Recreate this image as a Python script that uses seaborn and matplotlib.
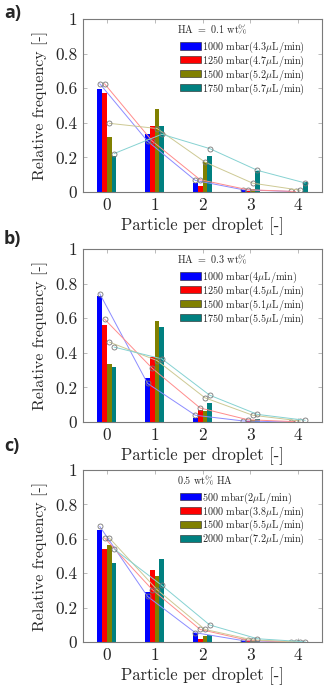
import numpy as np
import pandas as pd
import matplotlib
matplotlib.use("Agg")
import matplotlib.pyplot as plt
from matplotlib.patches import Patch
import seaborn as sns

# particles per droplet (x categories)
counts = [0, 1, 2, 3, 4]

# panel a) HA = 0.1 wt%  -- measured (bars) and fitted (lines)
a_title = r"HA $=$ 0.1 wt$\%$"
a_labels = [r"1000 mbar(4.3$\mu$L/min)", r"1250 mbar(4.7$\mu$L/min)",
            r"1500 mbar(5.2$\mu$L/min)", r"1750 mbar(5.7$\mu$L/min)"]
a_bars = [[0.596, 0.338, 0.051, 0.012, 0.000],
          [0.571, 0.383, 0.032, 0.005, 0.000],
          [0.319, 0.478, 0.173, 0.015, 0.002],
          [0.206, 0.383, 0.206, 0.122, 0.055]]
a_fits = [[0.626, 0.294, 0.067, 0.013, 0.003],
          [0.626, 0.294, 0.071, 0.013, 0.003],
          [0.397, 0.367, 0.173, 0.051, 0.010],
          [0.222, 0.334, 0.251, 0.125, 0.052]]

# panel b) HA = 0.3 wt%
b_title = r"HA $=$ 0.3 wt$\%$"
b_labels = [r"1000 mbar(4$\mu$L/min)", r"1250 mbar(4.5$\mu$L/min)",
            r"1500 mbar(5.1$\mu$L/min)", r"1750 mbar(5.5$\mu$L/min)"]
b_bars = [[0.727, 0.256, 0.025, 0.000, 0.000],
          [0.558, 0.378, 0.068, 0.003, 0.000],
          [0.335, 0.581, 0.062, 0.013, 0.000],
          [0.320, 0.549, 0.107, 0.019, 0.002]]
b_fits = [[0.742, 0.223, 0.039, 0.006, 0.000],
          [0.595, 0.310, 0.081, 0.013, 0.002],
          [0.462, 0.355, 0.140, 0.039, 0.006],
          [0.433, 0.365, 0.155, 0.044, 0.010]]

# panel c) 0.5 wt% HA
c_title = r"0.5 wt$\%$ HA"
c_labels = [r"500 mbar(2$\mu$L/min)", r"1000 mbar(3.8$\mu$L/min)",
            r"1500 mbar(5.5$\mu$L/min)", r"2000 mbar(7.2$\mu$L/min)"]
c_bars = [[0.653, 0.291, 0.050, 0.005, 0.000],
          [0.542, 0.416, 0.015, 0.008, 0.000],
          [0.566, 0.381, 0.037, 0.008, 0.000],
          [0.459, 0.483, 0.041, 0.005, 0.000]]
c_fits = [[0.672, 0.265, 0.054, 0.008, 0.000],
          [0.605, 0.304, 0.073, 0.010, 0.000],
          [0.605, 0.304, 0.073, 0.012, 0.000],
          [0.541, 0.329, 0.099, 0.019, 0.001]]

bar_colors = ["#0000ff", "#ff0000", "#808000", "#008080"]
line_colors = ["#8c8cff", "#ff8c8c", "#cdc994", "#86d2d2"]

sns.set_style("ticks")
plt.rcParams["font.family"] = ["cmr10", "DejaVu Serif"]
plt.rcParams["mathtext.fontset"] = "cm"
plt.rcParams["axes.unicode_minus"] = False
plt.rcParams["axes.formatter.use_mathtext"] = True


def draw_panel(ax, bars, fits, labels, title):
    df = pd.DataFrame({
        "count": np.tile(counts, len(labels)),
        "freq": np.concatenate(bars),
        "series": np.repeat(labels, len(counts)),
    })
    group_w = 0.4
    sns.barplot(data=df, x="count", y="freq", hue="series", hue_order=labels,
                palette=bar_colors, width=group_w, gap=0, dodge=True,
                saturation=1, linewidth=0, legend=False, errorbar=None, ax=ax)
    step = group_w / len(labels)
    for k in range(len(labels)):
        off = (k - (len(labels) - 1) / 2) * step
        sns.lineplot(x=np.array(counts) + off, y=fits[k], color=line_colors[k],
                     lw=0.7, marker="o", ms=3.6, mfc="none", mec="#777777",
                     mew=0.6, ax=ax, zorder=4)

    ax.set_xlim(-0.5, 4.5)
    ax.set_ylim(0, 1)
    ax.set_xticks(counts)
    ax.set_xticklabels([str(c) for c in counts])
    ax.set_yticks([0, 0.2, 0.4, 0.6, 0.8, 1])
    ax.set_yticklabels(["0", "0.2", "0.4", "0.6", "0.8", "1"])
    ax.tick_params(direction="in", length=3, width=0.6, color="#b0b0b0",
                   top=True, right=True, labelsize=12.5, pad=4)
    for s in ax.spines.values():
        s.set_color("#7a7a7a")
        s.set_linewidth(0.8)
    ax.set_xlabel("Particle per droplet [-]", fontsize=12, labelpad=3)
    ax.set_ylabel("Relative frequency [-]", fontsize=11.5, labelpad=5)

    # legend heading drawn as plain text, entries as a frameless legend
    ax.text(0.393, 0.942, title, transform=ax.transAxes, fontsize=7.3,
            ha="left", va="center")
    handles = [Patch(facecolor=c, edgecolor="#222222", lw=0.4) for c in bar_colors]
    ax.legend(handles, labels, loc="upper left",
              bbox_to_anchor=(0.397, 0.894), frameon=False,
              fontsize=7.3, handlelength=2.1, handleheight=0.7,
              handletextpad=0.12, labelspacing=-0.13, borderpad=0.2,
              borderaxespad=0)


fig = plt.figure(figsize=(3.28, 6.93), dpi=100)
W, H = 328, 693
left, right = 83, 322
panels = [(19, 192, a_bars, a_fits, a_labels, a_title),
          (249, 422, b_bars, b_fits, b_labels, b_title),
          (470, 642, c_bars, c_fits, c_labels, c_title)]
for top, bot, bars, fits, labels, title in panels:
    ax = fig.add_axes([left / W, 1 - bot / H, (right - left) / W, (bot - top) / H])
    draw_panel(ax, bars, fits, labels, title)

for txt, ytop in [("a)", 4), ("b)", 230), ("c)", 437)]:
    fig.text(4 / W, 1 - ytop / H, txt, family="Open Sans", weight="bold",
             fontsize=13, va="top", ha="left")

fig.savefig("out.png", dpi=100)
